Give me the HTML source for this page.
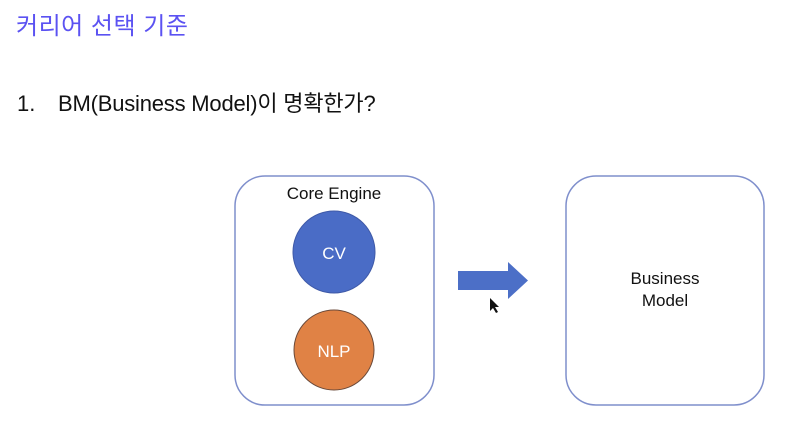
<!DOCTYPE html>
<html><head><meta charset="utf-8"><style>
body{margin:0;width:806px;height:422px;background:#fff;position:relative;overflow:hidden;font-family:"Liberation Sans","Noto Sans CJK KR",sans-serif;}
.t{position:absolute;white-space:nowrap;line-height:30px;}
</style></head><body>
<div class="t" style="left:16px;top:12px;font-size:24px;color:#5b52f2;letter-spacing:0.5px;">커리어 선택 기준</div>
<div class="t" style="left:17px;top:89px;font-size:22px;color:#111;">1.</div>
<div class="t" style="left:58px;top:89px;font-size:22px;color:#111;letter-spacing:-0.2px;">BM(Business Model)이 명확한가?</div>
<svg width="806" height="422" style="position:absolute;left:0;top:0">
<rect x="235" y="176" width="199" height="229" rx="30" fill="none" stroke="#7f8fcc" stroke-width="1.5"/>
<rect x="566" y="176" width="198" height="229" rx="30" fill="none" stroke="#7f8fcc" stroke-width="1.5"/>
<circle cx="334" cy="252" r="41" fill="#4a6cc6" stroke="#3f5aa8" stroke-width="1"/>
<circle cx="334" cy="350" r="40" fill="#e08245" stroke="#6b4a3a" stroke-width="1"/>
<polygon points="458,271 508,271 508,262 528,280.5 508,299 508,290 458,290" fill="#4c6fc7"/>
<path d="M490 298 L490 311 L493 308 L496 313 L498 312 L495 307 L499 307 Z" fill="#111"/>
<text x="334" y="199" font-size="17" text-anchor="middle" font-family="Liberation Sans,sans-serif" fill="#111">Core Engine</text>
<text x="334" y="259" font-size="17" text-anchor="middle" font-family="Liberation Sans,sans-serif" fill="#fff">CV</text>
<text x="334" y="357" font-size="17" text-anchor="middle" font-family="Liberation Sans,sans-serif" fill="#fff">NLP</text>
<text x="665" y="284" font-size="17" text-anchor="middle" font-family="Liberation Sans,sans-serif" fill="#111">Business</text>
<text x="665" y="306" font-size="17" text-anchor="middle" font-family="Liberation Sans,sans-serif" fill="#111">Model</text>
</svg>
</body></html>
